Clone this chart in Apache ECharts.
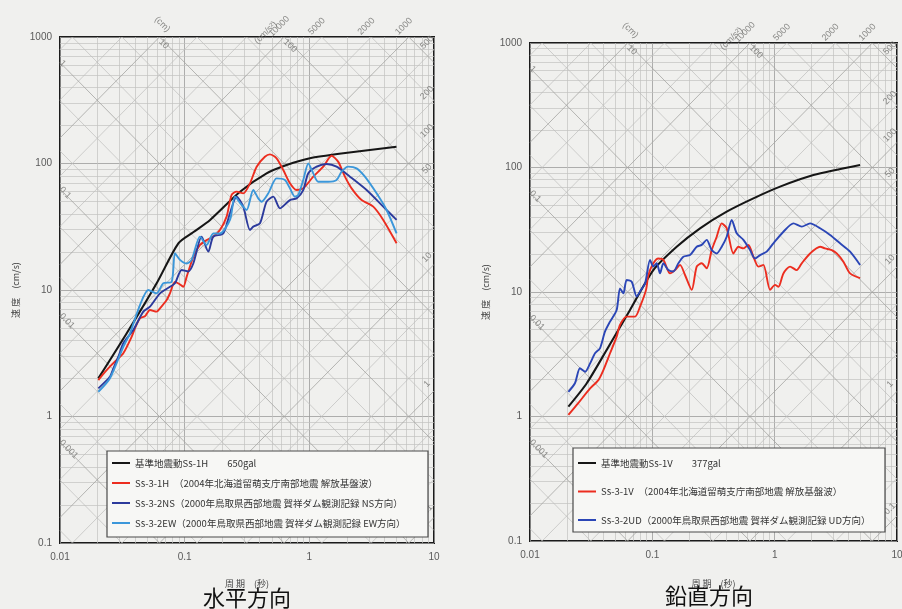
<!DOCTYPE html>
<html>
<head>
<meta charset="utf-8">
<script src="https://cdn.jsdelivr.net/npm/echarts@6/dist/echarts.min.js"></script>
<style>
  html, body { margin: 0; padding: 0; background: #f0f0ee; }
  #chart { width: 902px; height: 609px; }
</style>
</head>
<body>
<div id="chart"></div>
<script>
// ---- tick labels -------------------------------------------------------
const periodTicks = ['0.01', '0.1', '1', '10'];
const velocityTicks = ['0.1', '1', '10', '100', '1000'];

// tripartite guide labels
const dispEdgeLabels = ['1', '0.1', '0.01', '0.001'];          // displacement (cm), left edge
const dispTopLabels = ['10', '100'];                          // displacement (cm), top edge
const accTopLabels = ['10000', '5000', '2000', '1000'];       // acceleration (cm/s²), top edge
const accRightLabels = ['500', '200', '100', '50', '10', '1', '0.1']; // acceleration, right edge

// ---- horizontal spectra: period (s) / pseudo velocity (cm/s) -----------
const ss1H_T = [0.0203, 0.0343, 0.0596, 0.089, 0.117, 0.160, 0.278, 0.454, 0.658, 1.01, 1.87, 5.0];
const ss1H_V = [2.0, 4.55, 11.3, 23.4, 28.6, 35.8, 59.8, 83.6, 97.3, 110, 120.5, 135.8];

const ss31H_T = [0.0203, 0.0230, 0.0258, 0.0285, 0.0322, 0.0376, 0.0399, 0.0438, 0.0480, 0.0527, 0.0596, 0.0634, 0.0717, 0.0762, 0.0836, 0.0900, 0.0975, 0.1037, 0.1173, 0.1327, 0.150, 0.1697, 0.1919, 0.217, 0.238, 0.261, 0.295, 0.334, 0.378, 0.440, 0.483, 0.546, 0.618, 0.699, 0.790, 0.894, 1.075, 1.293, 1.509, 1.706, 1.930, 2.183, 2.625, 3.256, 3.916, 5.01];
const ss31H_V = [1.94, 2.25, 2.55, 2.80, 3.16, 4.28, 4.98, 5.97, 6.2, 6.95, 6.74, 7.16, 8.33, 9.41, 11.6, 11.2, 10.6, 12.7, 18.3, 22.7, 24.8, 26.4, 29.8, 38.0, 56.4, 59.9, 58.1, 69.7, 94.4, 113, 118, 110, 88.8, 69.7, 61.7, 63.6, 78.7, 94.4, 115, 103, 78.7, 63.6, 51.4, 45.6, 35.8, 23.4];

const ss32NS_T = [0.0203, 0.0251, 0.0268, 0.0295, 0.0322, 0.0387, 0.0466, 0.0527, 0.0634, 0.0762, 0.0836, 0.0946, 0.1069, 0.1173, 0.1368, 0.1547, 0.1697, 0.204, 0.2308, 0.261, 0.295, 0.334, 0.355, 0.402, 0.454, 0.514, 0.581, 0.699, 0.790, 0.894, 0.981, 1.144, 1.375, 1.654, 2.117, 2.879, 3.916, 5.01];
const ss32NS_V = [1.67, 2.06, 2.40, 3.0, 3.79, 4.83, 6.74, 7.38, 9.41, 10.6, 11.3, 14.4, 14.0, 16.2, 26.4, 20.1, 26.4, 28.0, 40.4, 54.7, 45.6, 29.8, 31.7, 33.7, 49.9, 54.7, 44.2, 51.4, 53.0, 61.7, 83.6, 94.4, 99.1, 94.4, 78.7, 61.7, 45.6, 35.8];

const ss32EW_T = [0.0203, 0.0251, 0.0322, 0.0364, 0.0438, 0.0511, 0.0596, 0.0674, 0.0786, 0.0836, 0.0917, 0.1037, 0.1137, 0.1327, 0.150, 0.1697, 0.1919, 0.2308, 0.2532, 0.2863, 0.314, 0.355, 0.3894, 0.4142, 0.4685, 0.546, 0.637, 0.699, 0.766, 0.815, 0.894, 0.981, 1.075, 1.179, 1.418, 1.654, 1.815, 2.053, 2.393, 2.792, 3.463, 4.165, 5.01];
const ss32EW_V = [1.57, 2.00, 3.56, 4.54, 7.61, 10.0, 9.41, 11.3, 11.6, 19.5, 17.3, 16.2, 17.3, 26.4, 22.7, 28.0, 28.0, 35.8, 54.7, 47.0, 42.9, 61.7, 53.0, 49.9, 58.1, 76.3, 74.1, 63.6, 54.7, 56.4, 74.1, 100, 83.6, 71.8, 71.8, 74.1, 86.2, 94.4, 91.6, 78.7, 58.1, 42.9, 28.0];

// ---- vertical spectra ----------------------------------------------------
const ss1V_T = [0.0206, 0.0291, 0.0423, 0.0657, 0.1019, 0.1582, 0.2455, 0.4055, 0.670, 1.107, 2.073, 4.99];
const ss1V_V = [1.20, 1.85, 3.42, 7.17, 15.0, 23.1, 32.5, 44.2, 56.5, 70.2, 87.0, 104.7];

const ss31V_T = [0.0206, 0.0248, 0.0310, 0.0362, 0.0398, 0.0451, 0.0511, 0.0544, 0.0617, 0.0722, 0.0793, 0.0888, 0.0928, 0.1019, 0.1120, 0.1231, 0.1395, 0.1533, 0.1685, 0.1850, 0.2099, 0.2305, 0.2533, 0.2782, 0.3057, 0.3359, 0.369, 0.4055, 0.460, 0.505, 0.555, 0.610, 0.670, 0.736, 0.809, 0.917, 1.007, 1.073, 1.179, 1.336, 1.515, 1.664, 1.947, 2.351, 2.583, 2.928, 3.217, 3.648, 4.135, 4.99];
const ss31V_V = [1.03, 1.28, 1.68, 1.96, 2.36, 3.22, 4.38, 5.43, 6.34, 6.34, 7.62, 10.4, 13.7, 17.0, 18.6, 18.1, 14.1, 15.0, 16.5, 13.7, 10.4, 16.0, 17.0, 15.5, 21.7, 27.8, 35.6, 32.5, 20.4, 23.1, 22.4, 23.9, 19.2, 16.0, 16.5, 10.4, 11.4, 11.0, 14.1, 16.0, 15.0, 17.0, 20.4, 23.1, 22.4, 21.7, 20.4, 17.5, 14.1, 12.9];

const ss32UD_T = [0.0206, 0.0233, 0.0256, 0.0282, 0.0310, 0.0340, 0.0373, 0.0410, 0.0451, 0.0511, 0.0544, 0.0580, 0.0617, 0.0678, 0.0745, 0.0793, 0.0872, 0.0958, 0.1019, 0.1086, 0.1156, 0.1231, 0.1352, 0.1486, 0.1632, 0.1793, 0.2034, 0.2305, 0.2533, 0.2782, 0.3057, 0.3359, 0.369, 0.4055, 0.4455, 0.4896, 0.555, 0.629, 0.691, 0.760, 0.861, 0.976, 1.179, 1.423, 1.664, 1.947, 2.351, 2.838, 3.424, 4.135, 4.99];
const ss32UD_V = [1.58, 1.85, 2.44, 2.29, 2.67, 3.22, 3.53, 4.80, 5.78, 7.17, 10.7, 9.76, 12.5, 12.1, 9.18, 10.1, 11.7, 18.1, 16.0, 17.0, 14.1, 17.0, 15.0, 14.6, 17.0, 19.2, 19.8, 23.1, 23.9, 26.2, 21.7, 20.4, 23.1, 27.8, 37.9, 29.6, 26.2, 21.7, 18.6, 19.8, 21.1, 24.6, 30.5, 35.6, 33.5, 35.6, 32.5, 28.7, 24.6, 21.1, 16.5];

// ---- series names (legend text) -----------------------------------------
const namesH = [
  '基準地震動Ss-1H　　650gal',
  'Ss-3-1H　（2004年北海道留萌支庁南部地震 解放基盤波）',
  'Ss-3-2NS（2000年鳥取県西部地震 賀祥ダム観測記録 NS方向）',
  'Ss-3-2EW（2000年鳥取県西部地震 賀祥ダム観測記録 EW方向）'
];
const namesV = [
  '基準地震動Ss-1V　　377gal',
  'Ss-3-1V　（2004年北海道留萌支庁南部地震 解放基盤波）',
  'Ss-3-2UD（2000年鳥取県西部地震 賀祥ダム観測記録 UD方向）'
];

const RED = '#ec2d1f', BLACK = '#161616', NAVY = '#2c3a9c', SKY = '#3b97da', BLUE = '#2b46b6';
const NUM_FONT = 'Liberation Sans';
const CJK_FONT = 'Noto Sans CJK JP';
const TWO_PI = 2 * Math.PI;
const R = { tMin: 0.01, tMax: 10, vMin: 0.1, vMax: 1000 };

function tickFormatter(labels) {
  const map = {};
  labels.forEach(s => { map[Math.round(Math.log10(parseFloat(s)))] = s; });
  return v => { const k = Math.round(Math.log10(v)); return map[k] !== undefined ? map[k] : ''; };
}

// log-paper minor lines (2..9 in every decade)
function minorGrid(i) {
  const data = [];
  for (let e = -2; e <= 0; e++) for (let k = 2; k <= 9; k++) {
    const t = k * Math.pow(10, e);
    data.push({ coords: [[t, R.vMin], [t, R.vMax]] });
  }
  for (let e = -1; e <= 2; e++) for (let k = 2; k <= 9; k++) {
    const v = k * Math.pow(10, e);
    data.push({ coords: [[R.tMin, v], [R.tMax, v]] });
  }
  return {
    type: 'lines', coordinateSystem: 'cartesian2d', xAxisIndex: i, yAxisIndex: i,
    silent: true, z: 1, polyline: false,
    lineStyle: { color: '#c2c2c0', width: 0.7, opacity: 1 },
    data
  };
}

// constant displacement / constant acceleration guide lines
function diagonals(i) {
  const major = [], minor = [];
  for (let e = -4; e <= 3; e++) for (const k of [1, 2, 5]) {
    const d = k * Math.pow(10, e);
    const t0 = Math.max(R.tMin, TWO_PI * d / R.vMax), t1 = Math.min(R.tMax, TWO_PI * d / R.vMin);
    if (t1 > t0 * 1.0001) (k === 1 ? major : minor).push({ coords: [[t0, TWO_PI * d / t0], [t1, TWO_PI * d / t1]] });
  }
  for (let e = -2; e <= 6; e++) for (const k of [1, 2, 5]) {
    const a = k * Math.pow(10, e);
    const t0 = Math.max(R.tMin, TWO_PI * R.vMin / a), t1 = Math.min(R.tMax, TWO_PI * R.vMax / a);
    if (t1 > t0 * 1.0001) (k === 1 ? major : minor).push({ coords: [[t0, a * t0 / TWO_PI], [t1, a * t1 / TWO_PI]] });
  }
  const base = { type: 'lines', coordinateSystem: 'cartesian2d', xAxisIndex: i, yAxisIndex: i, silent: true, polyline: false };
  return [
    Object.assign({}, base, { z: 1, lineStyle: { color: '#bdbdbb', width: 0.7, opacity: 1 }, data: minor }),
    Object.assign({}, base, { z: 1, lineStyle: { color: '#a4a4a2', width: 0.8, opacity: 1 }, data: major })
  ];
}

// labels on the guide lines
function guideLabels(i) {
  const items = [];
  const lab = (t, v, text, rotate, offset, align) => items.push({
    value: [t, v],
    label: { show: true, formatter: text, rotate, offset, align: align || 'center' }
  });
  dispEdgeLabels.forEach(s => lab(R.tMin, TWO_PI * parseFloat(s) / R.tMin, s, -45, [0, -1], 'left'));
  dispTopLabels.forEach(s => lab(TWO_PI * parseFloat(s) / R.vMax, R.vMax, s, -45, [3, 2], 'left'));
  lab(TWO_PI * parseFloat(dispTopLabels[0]) / R.vMax, R.vMax, '(cm)', -45, [-7, -11]);
  accTopLabels.forEach(s => lab(TWO_PI * R.vMax / parseFloat(s), R.vMax, s, 45, [4, -11]));
  lab(TWO_PI * R.vMax / parseFloat(accTopLabels[0]), R.vMax, '(cm/s²)', 45, [-10, -16]);
  accRightLabels.forEach(s => lab(R.tMax, parseFloat(s) * R.tMax / TWO_PI, s, 45, [0, -10]));
  return {
    type: 'scatter', xAxisIndex: i, yAxisIndex: i, silent: true, clip: false, z: 3,
    symbolSize: 0.1, itemStyle: { color: 'rgba(0,0,0,0)' },
    label: { show: true, position: 'inside', fontSize: 9, color: '#6e6e6c', fontFamily: NUM_FONT },
    data: items
  };
}

function curve(name, T, V, color, i, width) {
  return {
    type: 'line', name, xAxisIndex: i, yAxisIndex: i, silent: true, z: 5,
    data: T.map((t, k) => [t, V[k]]),
    symbol: 'none', showSymbol: false, smooth: 0.25,
    lineStyle: { color, width: width || 1.9 }, itemStyle: { color }
  };
}

function xAxis(i, gap) {
  return {
    type: 'log', logBase: 10, gridIndex: i, min: R.tMin, max: R.tMax,
    axisLine: { show: false }, axisTick: { show: false },
    splitLine: { show: true, lineStyle: { color: '#9c9c9a', width: 0.8 } },
    axisLabel: { color: '#5a5a5a', fontSize: 10, margin: 9, fontFamily: NUM_FONT, formatter: tickFormatter(periodTicks) },
    name: '周 期　(秒)', nameLocation: 'middle', nameGap: gap,
    nameTextStyle: { fontSize: 9, color: '#444', fontFamily: CJK_FONT }
  };
}
function yAxis(i) {
  return {
    type: 'log', logBase: 10, gridIndex: i, min: R.vMin, max: R.vMax,
    axisLine: { show: false }, axisTick: { show: false },
    splitLine: { show: true, lineStyle: { color: '#9c9c9a', width: 0.8 } },
    axisLabel: { color: '#5a5a5a', fontSize: 10, margin: 8, fontFamily: NUM_FONT, formatter: tickFormatter(velocityTicks) },
    name: '速 度　(cm/s)', nameLocation: 'middle', nameGap: 40, nameRotate: 90,
    nameTextStyle: { fontSize: 9, color: '#444', fontFamily: CJK_FONT }
  };
}

const legendBase = {
  orient: 'vertical', icon: 'rect', itemWidth: 18, itemHeight: 2, padding: 0, z: 20,
  selectedMode: false,
  textStyle: { fontSize: 9.5, color: '#333', lineHeight: 12, fontFamily: CJK_FONT }
};

const chart = echarts.init(document.getElementById('chart'), null, { renderer: 'canvas' });
chart.setOption({
  animation: false,
  backgroundColor: '#f0f0ee',
  grid: [
    { left: 60, top: 37, width: 374, height: 506, show: true, borderColor: '#1b1b1b', borderWidth: 2, backgroundColor: 'transparent', containLabel: false, outerBoundsMode: 'none' },
    { left: 530, top: 43, width: 367, height: 498, show: true, borderColor: '#1b1b1b', borderWidth: 2, backgroundColor: 'transparent', containLabel: false, outerBoundsMode: 'none' }
  ],
  xAxis: [xAxis(0, 36), xAxis(1, 38)],
  yAxis: [yAxis(0), yAxis(1)],
  legend: [
    Object.assign({}, legendBase, { data: namesH, left: 112, top: 457, itemGap: 8 }),
    Object.assign({}, legendBase, { data: namesV, left: 578, top: 457, itemGap: 16.5 })
  ],
  graphic: [
    { type: 'rect', z: 10, shape: { x: 107, y: 451, width: 321, height: 86 }, style: { fill: '#f7f7f5', stroke: '#4a4a4a', lineWidth: 1.2 } },
    { type: 'rect', z: 10, shape: { x: 573, y: 448, width: 312, height: 84 }, style: { fill: '#f7f7f5', stroke: '#4a4a4a', lineWidth: 1.2 } },
    { type: 'text', z: 10, x: 247, y: 598, style: { text: '水平方向', fontSize: 22, fontFamily: CJK_FONT, fill: '#111', align: 'center', verticalAlign: 'middle' } },
    { type: 'text', z: 10, x: 709, y: 596, style: { text: '鉛直方向', fontSize: 22, fontFamily: CJK_FONT, fill: '#111', align: 'center', verticalAlign: 'middle' } }
  ],
  series: [
    minorGrid(0), ...diagonals(0), guideLabels(0),
    minorGrid(1), ...diagonals(1), guideLabels(1),
    curve(namesH[0], ss1H_T, ss1H_V, BLACK, 0, 2.1),
    curve(namesH[1], ss31H_T, ss31H_V, RED, 0),
    curve(namesH[2], ss32NS_T, ss32NS_V, NAVY, 0),
    curve(namesH[3], ss32EW_T, ss32EW_V, SKY, 0),
    curve(namesV[0], ss1V_T, ss1V_V, BLACK, 1, 2.1),
    curve(namesV[1], ss31V_T, ss31V_V, RED, 1),
    curve(namesV[2], ss32UD_T, ss32UD_V, BLUE, 1)
  ]
});
</script>
</body>
</html>
